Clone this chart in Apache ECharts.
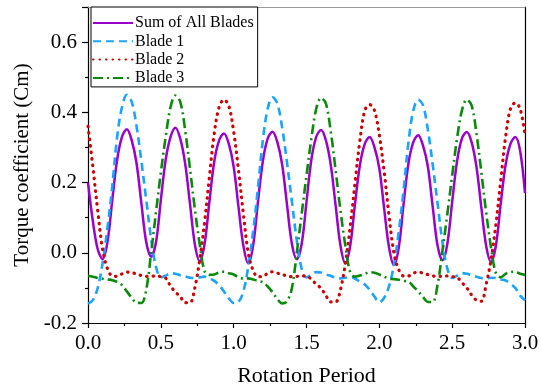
<!DOCTYPE html>
<html><head><meta charset="utf-8">
<script src="https://cdn.jsdelivr.net/npm/echarts@6/dist/echarts.min.js"></script>
<style>html,body{margin:0;padding:0;background:#fff}#c{width:542px;height:388px}</style>
</head><body><div id="c"></div>
<script>
// sample positions (rotation period), step 1/30
const rotationPeriod = Array.from({length: 91}, (_, i) => +(i / 30).toFixed(4));

const seriesNames = ['Sum of All Blades', 'Blade 1', 'Blade 2', 'Blade 3'];

const sumAllBlades = [
  0.20, 0.09, 0.01, -0.018, 0.03, 0.15, 0.265, 0.33, 0.352, 0.32,
  0.255, 0.14, 0.03, -0.011, 0.03, 0.15, 0.265, 0.33, 0.356, 0.325,
  0.255, 0.14, 0.025, -0.024, 0.025, 0.145, 0.26, 0.32, 0.34, 0.31,
  0.245, 0.13, 0.02, -0.03, 0.02, 0.145, 0.26, 0.325, 0.345, 0.315,
  0.25, 0.135, 0.025, -0.018, 0.025, 0.145, 0.265, 0.33, 0.35, 0.32,
  0.25, 0.135, 0.02, -0.03, 0.02, 0.14, 0.25, 0.31, 0.33, 0.30,
  0.24, 0.125, 0.015, -0.035, 0.015, 0.14, 0.255, 0.315, 0.335, 0.305,
  0.245, 0.13, 0.02, -0.021, 0.025, 0.145, 0.26, 0.325, 0.344, 0.315,
  0.245, 0.13, 0.02, -0.026, 0.02, 0.14, 0.25, 0.31, 0.33, 0.29,
  0.17
];

const blade1 = [
  -0.145, -0.135, -0.10, -0.03, 0.07, 0.19, 0.33, 0.415, 0.45, 0.43,
  0.36, 0.26, 0.15, 0.04, -0.04, -0.07, -0.065, -0.058, -0.06, -0.064,
  -0.067, -0.071, -0.072, -0.07, -0.068, -0.072, -0.08, -0.092, -0.11, -0.13,
  -0.143, -0.14, -0.11, -0.04, 0.06, 0.185, 0.32, 0.41, 0.443, 0.425,
  0.355, 0.255, 0.145, 0.035, -0.045, -0.07, -0.062, -0.055, -0.056, -0.062,
  -0.066, -0.071, -0.073, -0.071, -0.07, -0.074, -0.082, -0.09, -0.105, -0.125,
  -0.141, -0.128, -0.095, -0.035, 0.06, 0.18, 0.315, 0.405, 0.436, 0.42,
  0.35, 0.25, 0.14, 0.03, -0.045, -0.072, -0.065, -0.058, -0.06, -0.064,
  -0.068, -0.072, -0.073, -0.071, -0.072, -0.076, -0.079, -0.088, -0.10, -0.122,
  -0.135
];

const blade2 = [
  0.36, 0.245, 0.12, 0.01, -0.045, -0.066, -0.067, -0.06, -0.055, -0.057,
  -0.06, -0.065, -0.067, -0.067, -0.066, -0.068, -0.072, -0.095, -0.112, -0.125,
  -0.142, -0.142, -0.10, -0.02, 0.085, 0.215, 0.34, 0.415, 0.436, 0.418,
  0.345, 0.235, 0.11, 0.0, -0.05, -0.068, -0.068, -0.058, -0.054, -0.058,
  -0.062, -0.066, -0.068, -0.067, -0.066, -0.067, -0.075, -0.09, -0.101, -0.122,
  -0.14, -0.14, -0.105, -0.03, 0.075, 0.20, 0.32, 0.405, 0.422, 0.405,
  0.335, 0.23, 0.105, 0.0, -0.048, -0.066, -0.066, -0.058, -0.055, -0.058,
  -0.062, -0.066, -0.067, -0.067, -0.066, -0.068, -0.07, -0.085, -0.10, -0.12,
  -0.135, -0.138, -0.09, -0.02, 0.08, 0.205, 0.33, 0.41, 0.427, 0.41,
  0.335
];

const blade3 = [
  -0.066, -0.068, -0.072, -0.074, -0.076, -0.078, -0.083, -0.092, -0.11, -0.128,
  -0.142, -0.143, -0.105, 0.0, 0.115, 0.228, 0.33, 0.415, 0.448, 0.43,
  0.35, 0.24, 0.125, 0.025, -0.052, -0.063, -0.062, -0.056, -0.054, -0.058,
  -0.062, -0.07, -0.073, -0.073, -0.076, -0.08, -0.084, -0.096, -0.112, -0.132,
  -0.144, -0.138, -0.10, 0.0, 0.11, 0.22, 0.325, 0.41, 0.441, 0.425,
  0.345, 0.235, 0.12, 0.02, -0.055, -0.068, -0.065, -0.06, -0.055, -0.057,
  -0.062, -0.068, -0.074, -0.075, -0.077, -0.08, -0.082, -0.096, -0.11, -0.126,
  -0.14, -0.14, -0.09, 0.005, 0.11, 0.22, 0.325, 0.405, 0.436, 0.42,
  0.34, 0.23, 0.115, 0.015, -0.058, -0.07, -0.06, -0.055, -0.054, -0.06,
  -0.063
];

const font = '"Liberation Serif", "Times New Roman", serif';
const pairs = arr => rotationPeriod.map((x, i) => [x, arr[i]]);
const fmt1 = v => v.toFixed(1);

const styles = [
  {color: '#9A00CC', width: 2.5, type: 'solid'},
  {color: '#1AA3FF', width: 2.6, type: [8, 5]},
  {color: '#CC0000', width: 3.2, type: [0.5, 6], cap: 'round'},
  {color: '#0A8A0A', width: 2.6, type: [10, 4, 2, 4]}
];
const data = [sumAllBlades, blade1, blade2, blade3];

const chart = echarts.init(document.getElementById('c'), null, {renderer: 'canvas'});
chart.setOption({
  animation: false,
  backgroundColor: '#fff',
  grid: {left: 88, right: 17, top: 7, bottom: 65, containLabel: false, outerBoundsMode: 'none'},
  legend: {
    orient: 'vertical', left: 91, top: 7,
    itemWidth: 40, itemHeight: 14, itemGap: 2.3,
    padding: [8, 4, 1, 1],
    borderColor: '#000', borderWidth: 1, backgroundColor: '#fff',
    itemStyle: {opacity: 0},
    textStyle: {fontFamily: font, fontSize: 16, color: '#000', padding: [0, 0, 0, -3]},
    data: seriesNames
  },
  xAxis: [{
    type: 'value', min: 0, max: 3, interval: 0.5,
    name: 'Rotation Period', nameLocation: 'middle', nameGap: 42,
    nameTextStyle: {fontFamily: font, fontSize: 22, color: '#000'},
    axisLine: {show: true, onZero: false, lineStyle: {color: '#000', width: 1.2}},
    axisTick: {show: true, inside: false, length: 5, lineStyle: {color: '#000', width: 1.2}},
    minorTick: {show: true, splitNumber: 2, length: 3, lineStyle: {color: '#000', width: 1.2}},
    axisLabel: {fontFamily: font, fontSize: 21, color: '#000', margin: 10, formatter: fmt1},
    splitLine: {show: false}
  }, {
    type: 'value', position: 'top', min: 0, max: 3,
    axisLine: {show: true, onZero: false, lineStyle: {color: '#999', width: 1.2}},
    axisTick: {show: false}, axisLabel: {show: false}, splitLine: {show: false}
  }],
  yAxis: [{
    type: 'value', min: -0.2, max: 0.7, interval: 0.2,
    name: 'Torque coefficient (Cm)', nameLocation: 'middle', nameGap: 53,
    nameTextStyle: {fontFamily: font, fontSize: 21, color: '#000'},
    axisLine: {show: true, onZero: false, lineStyle: {color: '#000', width: 1.2}},
    axisTick: {show: true, inside: false, length: 6, lineStyle: {color: '#000', width: 1.2}},
    minorTick: {show: true, splitNumber: 2, length: 3, lineStyle: {color: '#000', width: 1.2}},
    axisLabel: {fontFamily: font, fontSize: 21, color: '#000', margin: 11, formatter: fmt1, showMaxLabel: false},
    splitLine: {show: false}
  }, {
    type: 'value', position: 'right', min: -0.2, max: 0.7,
    axisLine: {show: true, onZero: false, lineStyle: {color: '#000', width: 1.2}},
    axisTick: {show: false}, axisLabel: {show: false}, splitLine: {show: false}
  }],
  series: seriesNames.map((name, k) => ({
    name, type: 'line', xAxisIndex: 0, yAxisIndex: 0,
    data: pairs(data[k]),
    symbol: 'none', showSymbol: false, smooth: 0.35,
    lineStyle: styles[k], itemStyle: {color: styles[k].color}
  }))
});
</script></body></html>
